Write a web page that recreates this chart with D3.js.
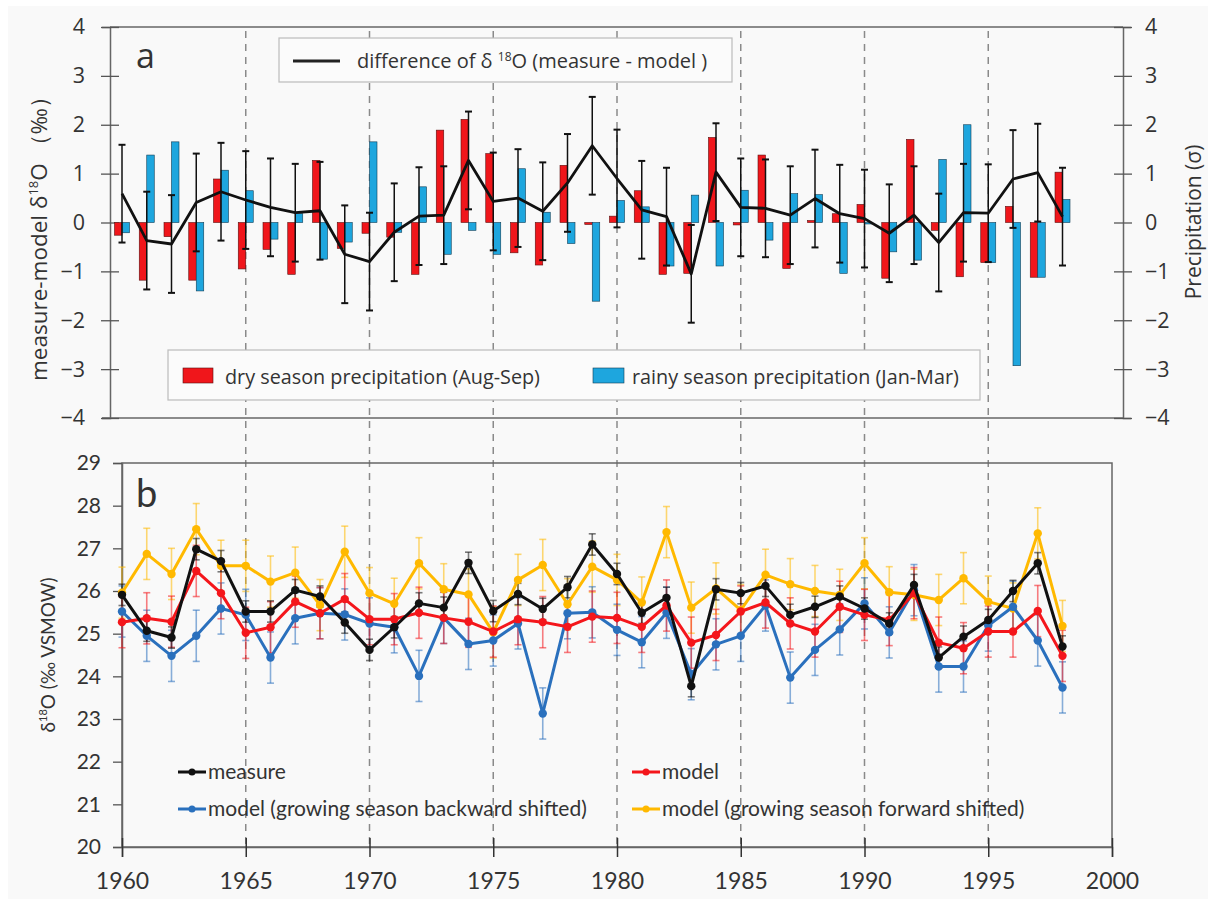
<!DOCTYPE html>
<html>
<head>
<meta charset="utf-8">
<script src="https://cdn.jsdelivr.net/npm/d3@7"></script>
<style>
	body { margin: 0; background: #fff; }
	text { font-family: "Open Sans", "Noto Sans", sans-serif; fill: #333; }
	.pb text { font-family: Lato, "Open Sans", sans-serif; }
</style>
</head>
<body>
<div id="chart"></div>
<script>
const years = d3.range(1960, 1999);

// panel a
const dryPrecip = [-0.26, -1.18, -0.29, -1.18, 0.89, -0.95, -0.55, -1.06, 1.27, -0.53, -0.22, -0.30, -1.06,
	1.89, 2.11, 1.41, -0.62, -0.87, 1.17, -0.04, 0.13, 0.65, -1.06, -1.04, 1.74, -0.05, 1.38, -0.94, 0.04,
	0.18, 0.37, -1.14, 1.70, -0.16, -1.11, -0.82, 0.33, -1.12, 1.03];
const rainyPrecip = [-0.21, 1.38, 1.65, -1.40, 1.07, 0.65, -0.34, 0.18, -0.75, -0.40, 1.65, -0.20, 0.73,
	-0.65, -0.16, -0.65, 1.10, 0.21, -0.43, -1.61, 0.45, 0.32, -0.89, 0.56, -0.89, 0.66, -0.36, 0.59, 0.57,
	-1.04, -0.03, -0.60, -0.77, 1.29, 2.00, -0.82, -2.93, -1.12, 0.47];
const diffO18 = [0.59, -0.37, -0.44, 0.41, 0.63, 0.46, 0.31, 0.20, 0.24, -0.65, -0.80, -0.20, 0.13,
	0.15, 1.27, 0.43, 0.50, 0.23, 0.81, 1.57, 0.90, 0.26, 0.12, -1.05, 1.03, 0.31, 0.29, 0.15, 0.49,
	0.18, 0.08, -0.22, 0.15, -0.41, 0.20, 0.19, 0.89, 1.02, 0.12];
const diffErr = 1.0;

// panel b
const measure = [25.91, 25.07, 24.91, 26.98, 26.70, 25.52, 25.52, 26.02, 25.87, 25.26, 24.62, 25.15, 25.71,
	25.61, 26.66, 25.53, 25.93, 25.58, 26.09, 27.09, 26.40, 25.49, 25.84, 23.77, 26.04, 25.95, 26.12, 25.44, 25.63,
	25.87, 25.59, 25.24, 26.14, 24.44, 24.93, 25.32, 26.00, 26.65, 24.70];
const model = [25.27, 25.36, 25.28, 26.47, 25.95, 25.02, 25.15, 25.75, 25.48, 25.81, 25.34, 25.34, 25.49,
	25.37, 25.28, 25.05, 25.34, 25.27, 25.16, 25.40, 25.37, 25.16, 25.66, 24.79, 24.97, 25.52, 25.73, 25.24, 25.05,
	25.63, 25.44, 25.32, 25.95, 24.79, 24.66, 25.05, 25.05, 25.53, 24.48];
const modelBackward = [25.52, 24.95, 24.48, 24.95, 25.59, 25.44, 24.44, 25.36, 25.48, 25.45, 25.24, 25.15, 24.01,
	25.37, 24.76, 24.84, 25.24, 23.13, 25.48, 25.50, 25.09, 24.80, 25.49, 24.05, 24.75, 24.95, 25.66, 23.97, 24.62,
	25.10, 25.71, 25.03, 26.02, 24.23, 24.23, 25.19, 25.63, 24.84, 23.74];
const modelForward = [25.96, 26.87, 26.40, 27.45, 26.59, 26.59, 26.22, 26.43, 25.67, 26.92, 25.95, 25.70, 26.65,
	26.04, 25.92, 25.03, 26.26, 26.61, 25.69, 26.57, 26.26, 25.73, 27.38, 25.61, 26.06, 25.55, 26.38, 26.16, 26.00,
	25.91, 26.65, 25.97, 25.91, 25.79, 26.30, 25.75, 25.59, 27.35, 25.18];
const measureErr = 0.25, modelErr = 0.6;

const yearTicks = [1960, 1965, 1970, 1975, 1980, 1985, 1990, 1995, 2000];
const dashedYears = [1965, 1970, 1975, 1980, 1985, 1990, 1995];

const width = 1208, height = 899;
const aLeft = 110, aRight = 1123, aTop = 27, aBottom = 418;
const bLeft = 122, bRight = 1112, bTop = 463, bBottom = 847;
const barW = 7.5;

const svg = d3.select("#chart").append("svg")
	.attr("width", width)
	.attr("height", height);

svg.append("rect")
	.attr("x", 8).attr("y", 6)
	.attr("width", width - 8).attr("height", height - 6)
	.attr("fill", "#f9f9f9");

const x = d3.scaleLinear().domain([1960, 2000]).range([bLeft, bRight]);
const ya = d3.scaleLinear().domain([-4, 4]).range([aBottom, aTop]);
const yb = d3.scaleLinear().domain([20, 29]).range([bBottom, bTop]);

//dashed year guides through both panels
svg.selectAll("line.guide")
	.data(dashedYears)
	.enter().append("line")
	.attr("class", "guide")
	.attr("x1", d => x(d)).attr("x2", d => x(d))
	.attr("y1", aTop + 4).attr("y2", bBottom)
	.attr("stroke", "#8a8a8a")
	.attr("stroke-width", 1.5)
	.attr("stroke-dasharray", "7,6");

/////////////
// PANEL A //
/////////////
const ga = svg.append("g").attr("class", "pa");

ga.append("line")
	.attr("x1", aLeft).attr("x2", aRight).attr("y1", aTop).attr("y2", aTop)
	.attr("stroke", "#666").attr("stroke-width", 1.5);
ga.append("line")
	.attr("x1", aLeft - 8).attr("x2", aRight).attr("y1", aBottom).attr("y2", aBottom)
	.attr("stroke", "#666").attr("stroke-width", 1.5);

const axisA = ga.append("g")
	.attr("transform", "translate(" + aLeft + ",0)")
	.call(d3.axisLeft(ya).ticks(8).tickSize(8).tickPadding(17));
const axisA2 = ga.append("g")
	.attr("transform", "translate(" + aRight + ",0)")
	.call(d3.axisRight(ya).ticks(8).tickSize(8).tickPadding(14));
[axisA, axisA2].forEach(g => {
	g.select(".domain").attr("stroke", "#666").attr("stroke-width", 1.5);
	g.selectAll(".tick line").attr("x1", -9).attr("x2", 9).attr("stroke", "#555").attr("stroke-width", 1.3);
	g.selectAll(".tick text").attr("font-size", 21.5).attr("fill", "#222")
		.style("font-family", "'Open Sans', sans-serif");
});

const rows = years.map((yr, i) => ({year: yr, dry: dryPrecip[i], rainy: rainyPrecip[i], diff: diffO18[i]}));

ga.selectAll("rect.dry")
	.data(rows)
	.enter().append("rect")
	.attr("class", "dry")
	.attr("x", d => x(d.year) - barW)
	.attr("width", barW)
	.attr("y", d => ya(Math.max(0, d.dry)))
	.attr("height", d => Math.abs(ya(d.dry) - ya(0)))
	.attr("fill", "#f0161b")
	.attr("stroke", "#5a1010")
	.attr("stroke-width", 0.6);

ga.selectAll("rect.rainy")
	.data(rows)
	.enter().append("rect")
	.attr("class", "rainy")
	.attr("x", d => x(d.year))
	.attr("width", barW)
	.attr("y", d => ya(Math.max(0, d.rainy)))
	.attr("height", d => Math.abs(ya(d.rainy) - ya(0)))
	.attr("fill", "#1ea6de")
	.attr("stroke", "#103c55")
	.attr("stroke-width", 0.6);

const errA = ga.selectAll("g.errA")
	.data(rows)
	.enter().append("g")
	.attr("class", "errA")
	.attr("stroke", "#111")
	.attr("stroke-width", 1.5);
errA.append("line")
	.attr("x1", d => x(d.year)).attr("x2", d => x(d.year))
	.attr("y1", d => ya(d.diff + diffErr)).attr("y2", d => ya(d.diff - diffErr));
errA.append("line")
	.attr("x1", d => x(d.year) - 3.5).attr("x2", d => x(d.year) + 3.5)
	.attr("y1", d => ya(d.diff + diffErr)).attr("y2", d => ya(d.diff + diffErr))
	.attr("stroke-width", 2);
errA.append("line")
	.attr("x1", d => x(d.year) - 3.5).attr("x2", d => x(d.year) + 3.5)
	.attr("y1", d => ya(d.diff - diffErr)).attr("y2", d => ya(d.diff - diffErr))
	.attr("stroke-width", 2);

ga.append("path")
	.datum(rows)
	.attr("fill", "none")
	.attr("stroke", "#111")
	.attr("stroke-width", 2.8)
	.attr("stroke-linejoin", "round")
	.attr("d", d3.line().x(d => x(d.year)).y(d => ya(d.diff)));

ga.append("text")
	.attr("x", 136).attr("y", 68)
	.attr("font-size", 34)
	.attr("fill", "#222")
	.text("a");

//legend boxes
ga.append("rect")
	.attr("x", 279).attr("y", 38).attr("width", 453).attr("height", 44)
	.attr("fill", "#fbfbfb").attr("stroke", "#bbb").attr("stroke-width", 1.2);
ga.append("line")
	.attr("x1", 293).attr("x2", 340).attr("y1", 61).attr("y2", 61)
	.attr("stroke", "#222").attr("stroke-width", 3);
const lt = ga.append("text")
	.attr("x", 357).attr("y", 68)
	.attr("font-size", 20)
	.attr("fill", "#444");
lt.append("tspan").text("difference of  δ ");
lt.append("tspan").attr("font-size", 12).attr("dy", -7).text("18");
lt.append("tspan").attr("dy", 7).text("O (measure - model )");

ga.append("rect")
	.attr("x", 168).attr("y", 350).attr("width", 812).attr("height", 50)
	.attr("fill", "#fbfbfb").attr("stroke", "#bbb").attr("stroke-width", 1.2);
ga.append("rect")
	.attr("x", 183).attr("y", 368).attr("width", 30).attr("height", 15)
	.attr("fill", "#f0161b").attr("stroke", "#5a1010").attr("stroke-width", 0.6);
ga.append("text")
	.attr("x", 225).attr("y", 384)
	.attr("font-size", 19.8).attr("fill", "#444")
	.text("dry season precipitation (Aug-Sep)");
ga.append("rect")
	.attr("x", 593).attr("y", 368).attr("width", 31).attr("height", 15)
	.attr("fill", "#1ea6de").attr("stroke", "#103c55").attr("stroke-width", 0.6);
ga.append("text")
	.attr("x", 632).attr("y", 384)
	.attr("font-size", 19.8).attr("fill", "#444")
	.text("rainy season precipitation (Jan-Mar)");

//axis titles
const tA = ga.append("text")
	.attr("transform", "translate(47,233) rotate(-90)")
	.attr("text-anchor", "middle")
	.attr("font-size", 22.5)
	.attr("fill", "#222");
tA.append("tspan").text("measure-model  δ");
tA.append("tspan").attr("font-size", 13).attr("dy", -9).text("18");
tA.append("tspan").attr("dy", 9).text("O  （‰）");

ga.append("text")
	.attr("transform", "translate(1201,222) rotate(-90)")
	.attr("text-anchor", "middle")
	.attr("font-size", 21)
	.attr("fill", "#333")
	.text("Precipitation (σ)");

/////////////
// PANEL B //
/////////////
const gb = svg.append("g").attr("class", "pb");

gb.append("rect")
	.attr("x", bLeft).attr("y", bTop)
	.attr("width", bRight - bLeft).attr("height", bBottom - bTop)
	.attr("fill", "none").attr("stroke", "#666").attr("stroke-width", 1.5);

const axisB = gb.append("g")
	.attr("transform", "translate(" + bLeft + ",0)")
	.call(d3.axisLeft(yb).ticks(9).tickSize(9).tickPadding(12));
axisB.select(".domain").attr("stroke", "#666").attr("stroke-width", 1.5);
axisB.selectAll(".tick line").attr("stroke", "#555").attr("stroke-width", 1.3);
axisB.selectAll(".tick text").attr("font-size", 21).attr("fill", "#222")
	.style("font-family", "Lato, sans-serif");

const axisX = gb.append("g")
	.attr("transform", "translate(0," + bBottom + ")")
	.call(d3.axisBottom(x).tickValues(yearTicks).tickFormat(d3.format("d")).tickSize(10).tickPadding(16));
axisX.select(".domain").attr("stroke", "#666").attr("stroke-width", 1.5);
axisX.selectAll(".tick line").attr("y1", -9).attr("y2", 10).attr("stroke", "#333").attr("stroke-width", 1.5);
axisX.selectAll(".tick text").attr("font-size", 23).attr("fill", "#222")
	.style("font-family", "Lato, sans-serif");

const series = [
	{name: "model (growing season forward shifted)", values: modelForward, err: modelErr, color: "#ffb900"},
	{name: "model (growing season backward shifted)", values: modelBackward, err: modelErr, color: "#2a70bd"},
	{name: "model", values: model, err: modelErr, color: "#f4161b"},
	{name: "measure", values: measure, err: measureErr, color: "#111"}
];

series.forEach(s => {
	const pts = years.map((yr, i) => ({year: yr, v: s.values[i]}));
	const eg = gb.append("g")
		.attr("stroke", s.color)
		.attr("stroke-opacity", 0.55)
		.attr("stroke-width", 1.6);
	const e = eg.selectAll("g").data(pts).enter().append("g");
	e.append("line")
		.attr("x1", d => x(d.year)).attr("x2", d => x(d.year))
		.attr("y1", d => yb(d.v + s.err)).attr("y2", d => yb(d.v - s.err));
	e.append("line")
		.attr("x1", d => x(d.year) - 3.5).attr("x2", d => x(d.year) + 3.5)
		.attr("y1", d => yb(d.v + s.err)).attr("y2", d => yb(d.v + s.err));
	e.append("line")
		.attr("x1", d => x(d.year) - 3.5).attr("x2", d => x(d.year) + 3.5)
		.attr("y1", d => yb(d.v - s.err)).attr("y2", d => yb(d.v - s.err));
});

series.forEach(s => {
	const pts = years.map((yr, i) => ({year: yr, v: s.values[i]}));
	gb.append("path")
		.datum(pts)
		.attr("fill", "none")
		.attr("stroke", s.color)
		.attr("stroke-width", 3)
		.attr("stroke-linejoin", "round")
		.attr("d", d3.line().x(d => x(d.year)).y(d => yb(d.v)));
	gb.selectAll(null)
		.data(pts)
		.enter().append("circle")
		.attr("cx", d => x(d.year))
		.attr("cy", d => yb(d.v))
		.attr("r", 4.2)
		.attr("fill", s.color);
});

gb.append("text")
	.attr("x", 136).attr("y", 507)
	.attr("font-size", 38)
	.attr("fill", "#222")
	.text("b");

//legend (no box)
const legendB = [
	{s: series[3], lx: 178, ty: 772},
	{s: series[2], lx: 632, ty: 772},
	{s: series[1], lx: 178, ty: 809},
	{s: series[0], lx: 632, ty: 809}
];
const lg = gb.selectAll("g.leg")
	.data(legendB)
	.enter().append("g")
	.attr("class", "leg")
	.attr("transform", d => "translate(" + d.lx + "," + d.ty + ")");
lg.append("line")
	.attr("x1", 0).attr("x2", 28).attr("y1", 0).attr("y2", 0)
	.attr("stroke", d => d.s.color).attr("stroke-width", 3);
lg.append("circle")
	.attr("cx", 14).attr("cy", 0).attr("r", 3.5)
	.attr("fill", d => d.s.color);
lg.append("text")
	.attr("x", 30).attr("y", 7)
	.attr("font-size", 21)
	.attr("fill", "#222")
	.text(d => d.s.name);

const tB = gb.append("text")
	.attr("transform", "translate(55,655) rotate(-90)")
	.attr("text-anchor", "middle")
	.attr("font-size", 19)
	.attr("fill", "#222");
tB.append("tspan").text("δ");
tB.append("tspan").attr("font-size", 11).attr("dy", -8).text("18");
tB.append("tspan").attr("dy", 8).text("O (‰ VSMOW)");
</script>
</body>
</html>
